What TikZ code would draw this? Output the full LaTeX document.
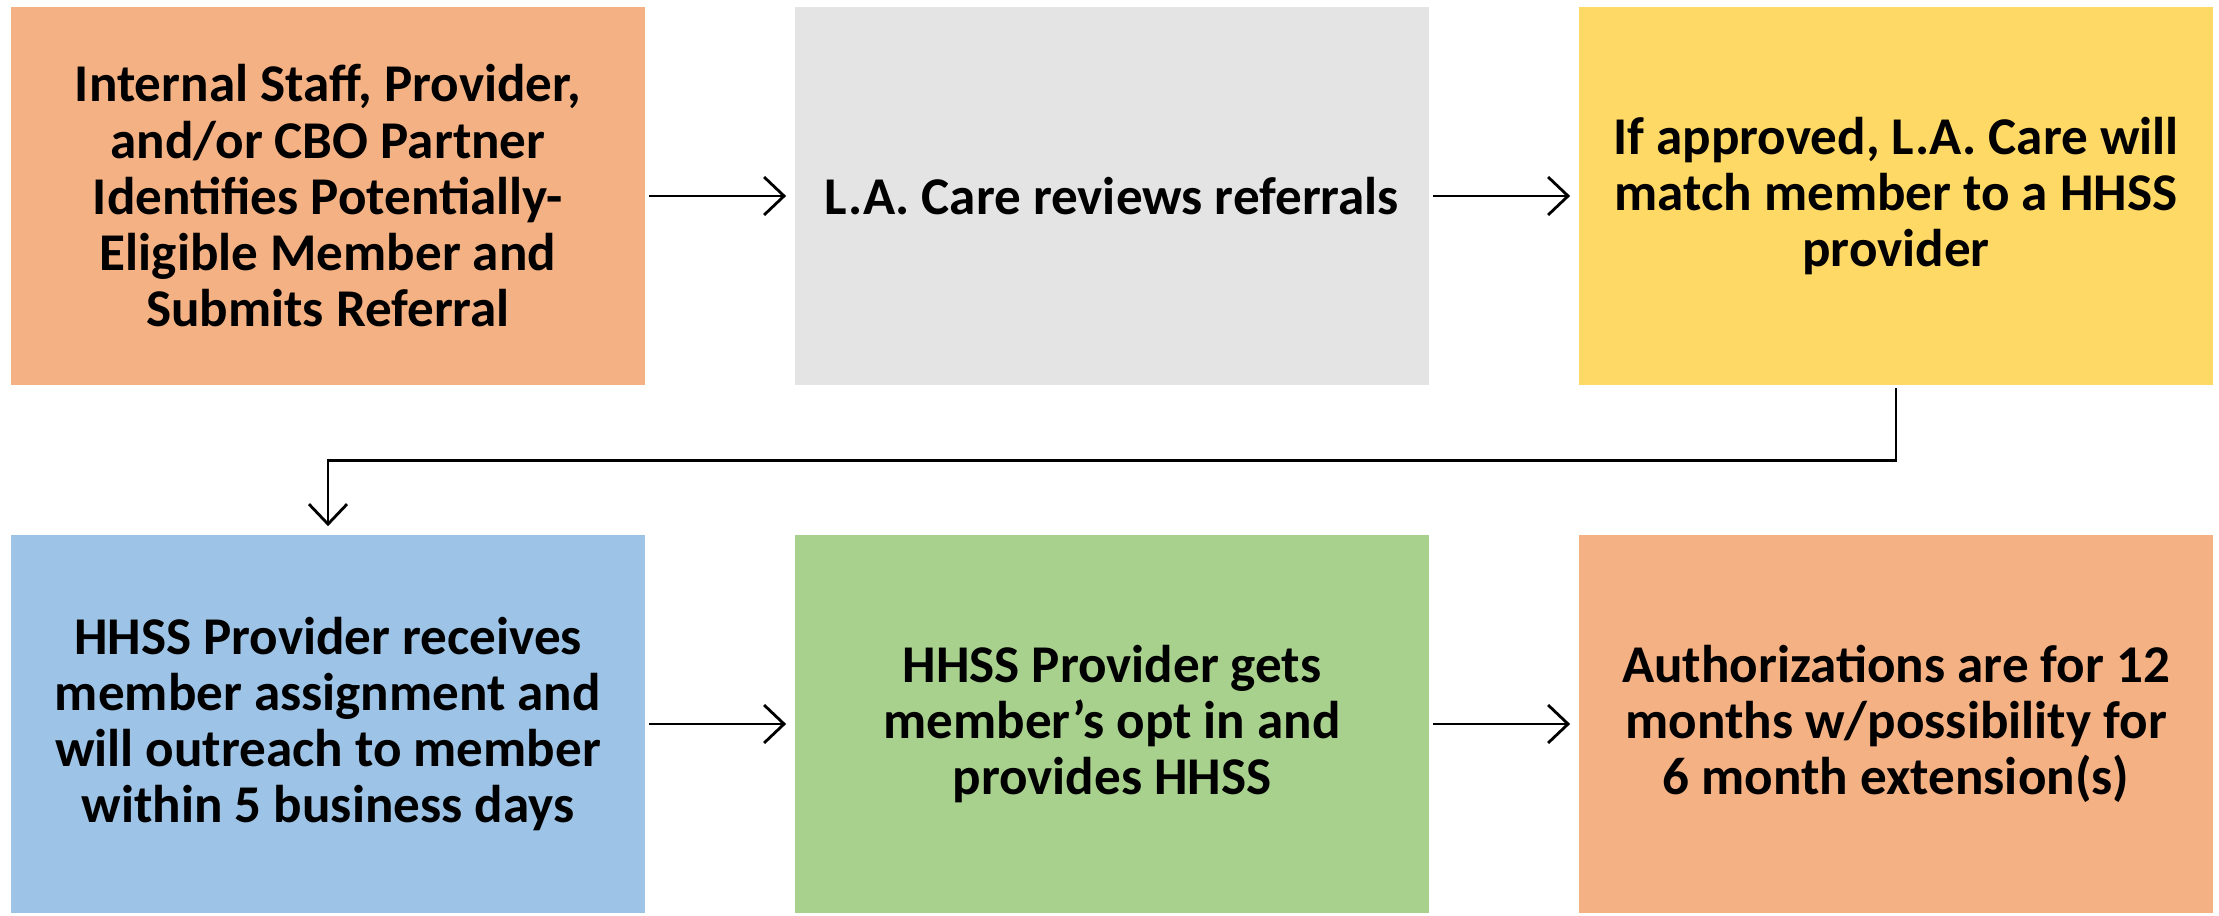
\documentclass[tikz,border=0pt]{standalone}
\usepackage{fontspec}
\setmainfont{Carlito}
\usetikzlibrary{arrows.meta}
\definecolor{boxorange}{HTML}{F4B183}
\definecolor{boxgray}{HTML}{E4E4E4}
\definecolor{boxyellow}{HTML}{FFD966}
\definecolor{boxblue}{HTML}{9DC3E6}
\definecolor{boxgreen}{HTML}{A9D18E}
\tikzset{
	stepbox/.style={rectangle, inner sep=0, minimum width=6.34cm, minimum height=3.78cm,
		align=center, font=\fontsize{15.1pt}{16pt}\selectfont\bfseries},
	flow/.style={line width=0.8pt, -{Straight Barb[length=2mm, width=3.8mm, line width=0.8pt]},
		shorten <=0.03cm, shorten >=0.08cm}
}
\begin{document}
\begin{tikzpicture}[x=0.01cm, y=-0.01cm]
	\useasboundingbox (0,0) rectangle (2219,916);
	% top row
	\node[stepbox, fill=boxorange] (ident) at (328,196) {Internal Staff, Provider,\\and/or CBO Partner\\Identifies Potentially-\\Eligible Member and\\Submits Referral};
	\node[stepbox, fill=boxgray] (review) at (1112,196) {L.A. Care reviews referrals};
	\node[stepbox, fill=boxyellow] (match) at (1896,196) {If approved, L.A. Care will\\match member to a HHSS\\provider};
	% bottom row
	\node[stepbox, fill=boxblue] (assign) at (328,724) {HHSS Provider receives\\member assignment and\\will outreach to member\\within 5 business days};
	\node[stepbox, fill=boxgreen] (optin) at (1112,724) {HHSS Provider gets\\member’s opt in and\\provides HHSS};
	\node[stepbox, fill=boxorange] (auth) at (1896,724) {Authorizations are for 12\\months w/possibility for\\6 month extension(s)};
	\draw[flow] (ident.east) -- (review.west);
	\draw[flow] (review.east) -- (match.west);
	\draw[flow, shorten <=0.02cm] (match.south) -- ++(0,75) -| (assign.north);
	\draw[flow] (assign.east) -- (optin.west);
	\draw[flow] (optin.east) -- (auth.west);
\end{tikzpicture}
\end{document}
